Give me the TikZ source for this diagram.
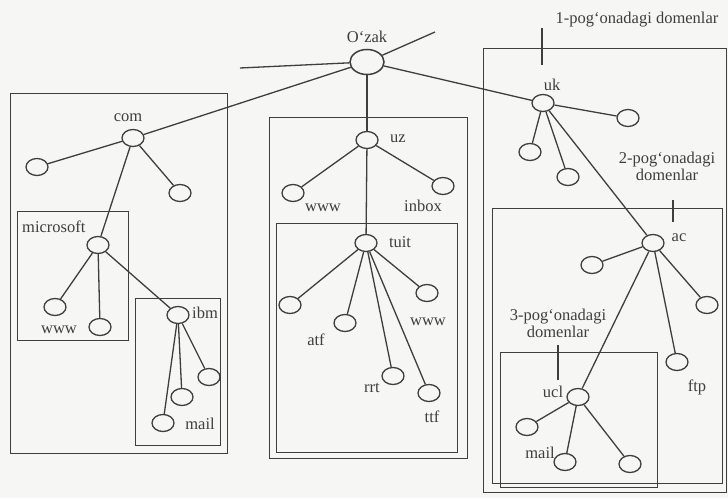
\documentclass[tikz,border=0pt]{standalone}
\usepackage{fontspec}
\setmainfont{Liberation Serif}
\usetikzlibrary{shapes.geometric}
\definecolor{ink}{HTML}{3E3E3E}
\definecolor{paper}{HTML}{F6F6F4}
\tikzset{
  leaf/.style={draw=ink, line width=1.3pt, ellipse, minimum width=22pt, minimum height=17pt, inner sep=0pt},
  rootnode/.style={draw=ink, line width=1.5pt, ellipse, minimum width=34pt, minimum height=25pt, inner sep=0pt},
  conn/.style={draw=ink, line width=1.3pt},
  dombox/.style={draw=ink, line width=1pt},
  lbl/.style={text=ink, font=\fontsize{16.5}{17}\selectfont, inner sep=0pt},
}
\begin{document}
\begin{tikzpicture}[x=1pt,y=-1pt]
\fill[paper] (0,0) rectangle (728,498);
\useasboundingbox (0,0) rectangle (728,498);
% domain boxes
\draw[dombox] (10,93) rectangle (227,453);
\draw[dombox] (17,211) rectangle (128,340);
\draw[dombox] (135,298) rectangle (220,445);
\draw[dombox] (269,117) rectangle (467,458);
\draw[dombox] (276,223) rectangle (457,452);
\draw[dombox] (483,48) rectangle (726,492);
\draw[dombox] (492,208) rectangle (722,483);
\draw[dombox] (500,352) rectangle (657,487);
% nodes
\node[rootnode] (root) at (367,62) {};
\coordinate (r1) at (435,32);
\coordinate (r2) at (240,68);
\node[leaf] (com) at (133,138) {};
\node[leaf] (c1) at (37,167) {};
\node[leaf] (c2) at (180,193) {};
\node[leaf] (ms) at (98,245) {};
\node[leaf] (m1) at (55,307) {};
\node[leaf] (m2) at (100,327) {};
\node[leaf] (ibm) at (178,315) {};
\node[leaf] (i1) at (163,423) {};
\node[leaf] (i2) at (182,397) {};
\node[leaf] (i3) at (209,377) {};
\node[leaf] (uz) at (367,140) {};
\node[leaf] (u1) at (293,193) {};
\node[leaf] (u2) at (443,186) {};
\node[leaf] (tuit) at (366,243) {};
\node[leaf] (t1) at (290,305) {};
\node[leaf] (t2) at (345,323) {};
\node[leaf] (t3) at (427,293) {};
\node[leaf] (t4) at (393,376) {};
\node[leaf] (t5) at (429,393) {};
\node[leaf] (uk) at (543,103) {};
\node[leaf] (k1) at (628,118) {};
\node[leaf] (k2) at (530,152) {};
\node[leaf] (k3) at (568,177) {};
\node[leaf] (ac) at (653,243) {};
\node[leaf] (a1) at (592,265) {};
\node[leaf] (a2) at (707,305) {};
\node[leaf] (ftp) at (677,362) {};
\node[leaf] (ucl) at (578,397) {};
\node[leaf] (l1) at (527,427) {};
\node[leaf] (l2) at (565,462) {};
\node[leaf] (l3) at (630,464) {};
% connectors
\draw[conn] (root) -- (r1);
\draw[conn] (root) -- (r2);
\draw[conn] (root) -- (com);
\draw[conn] (root) -- (uz);
\draw[conn] (root) -- (uk);
\draw[conn] (com) -- (c1);
\draw[conn] (com) -- (c2);
\draw[conn] (com) -- (ms);
\draw[conn] (ms) -- (m1);
\draw[conn] (ms) -- (m2);
\draw[conn] (ms) -- (ibm);
\draw[conn] (ibm) -- (i1);
\draw[conn] (ibm) -- (i2);
\draw[conn] (ibm) -- (i3);
\draw[conn] (uz) -- (u1);
\draw[conn] (uz) -- (u2);
\draw[conn] (uz) -- (tuit);
\draw[conn] (tuit) -- (t1);
\draw[conn] (tuit) -- (t2);
\draw[conn] (tuit) -- (t3);
\draw[conn] (tuit) -- (t4);
\draw[conn] (tuit) -- (t5);
\draw[conn] (uk) -- (k1);
\draw[conn] (uk) -- (k2);
\draw[conn] (uk) -- (k3);
\draw[conn] (uk) -- (ac);
\draw[conn] (ac) -- (a1);
\draw[conn] (ac) -- (a2);
\draw[conn] (ac) -- (ftp);
\draw[conn] (ac) -- (ucl);
\draw[conn] (ucl) -- (l1);
\draw[conn] (ucl) -- (l2);
\draw[conn] (ucl) -- (l3);
% level ticks
\coordinate (tk1a) at (542,28); \coordinate (tk1b) at (542,65);
\coordinate (tk2a) at (673,200); \coordinate (tk2b) at (673,222);
\coordinate (tk3a) at (558,345); \coordinate (tk3b) at (558,380);
\draw[conn] (tk1a) -- (tk1b);
\draw[conn] (tk2a) -- (tk2b);
\draw[conn] (tk3a) -- (tk3b);
% labels
\node[lbl] (lroot) at (367,37) {O`zak};
\node[lbl] (lcom) at (128,118) {com};
\node[lbl, anchor=west] (lms) at (22,227) {microsoft};
\node[lbl] (lmw) at (59,330) {www};
\node[lbl, anchor=west] (libm) at (192,313) {ibm};
\node[lbl] (lmail1) at (200,424) {mail};
\node[lbl] (luz) at (398,139) {uz};
\node[lbl] (luw) at (323,208) {www};
\node[lbl] (linbox) at (423,206) {inbox};
\node[lbl] (ltuit) at (400,242) {tuit};
\node[lbl] (latf) at (316,340) {atf};
\node[lbl] (ltw) at (428,322) {www};
\node[lbl] (lrrt) at (372,388) {rrt};
\node[lbl] (lttf) at (432,417) {ttf};
\node[lbl] (luk) at (552,85) {uk};
\node[lbl] (ll1) at (637,20) {1-pog`onadagi domenlar};
\node[lbl, align=center] (ll2) at (667,166) {2-pog`onadagi\\domenlar};
\node[lbl] (lac) at (679,238) {ac};
\node[lbl, align=center] (ll3) at (558,323) {3-pog`onadagi\\domenlar};
\node[lbl] (lftp) at (697,387) {ftp};
\node[lbl] (lucl) at (553,392) {ucl};
\node[lbl] (lmail2) at (540,453) {mail};
\end{tikzpicture}
\end{document}
